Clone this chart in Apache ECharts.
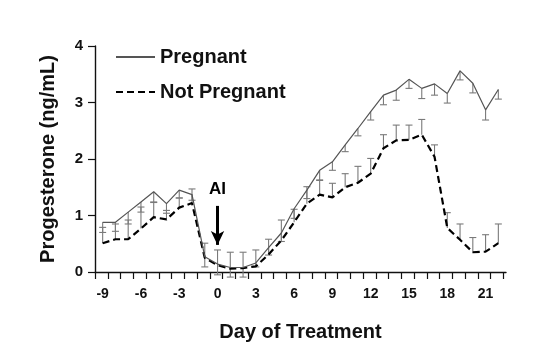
<!DOCTYPE html>
<html>
<head>
<meta charset="utf-8">
<script src="https://cdn.jsdelivr.net/npm/echarts@6/dist/echarts.min.js"></script>
<style>
  html, body { margin: 0; padding: 0; background: #fff; }
  #chart { width: 545px; height: 349px; }
</style>
</head>
<body>
<div id="chart"></div>
<script>
// Day relative to treatment
const days = [-9, -8, -7, -6, -5, -4, -3, -2, -1, 0, 1, 2, 3, 4, 5, 6, 7, 8, 9, 10,
              11, 12, 13, 14, 15, 16, 17, 18, 19, 20, 21, 22];
// Mean progesterone (ng/mL)
const pregnant = [0.88, 0.88, 1.06, 1.24, 1.42, 1.21, 1.45, 1.37, 0.27, 0.14, 0.08, 0.08,
                  0.16, 0.43, 0.69, 1.12, 1.45, 1.80, 1.95, 2.25, 2.54, 2.84, 3.13, 3.22,
                  3.41, 3.25, 3.33, 3.16, 3.56, 3.34, 2.87, 3.23];
const notPregnant = [0.51, 0.58, 0.58, 0.77, 0.97, 0.93, 1.14, 1.22, 0.25, 0.12, 0.06, 0.07,
                     0.10, 0.31, 0.56, 0.88, 1.21, 1.37, 1.32, 1.50, 1.58, 1.74, 2.19, 2.33,
                     2.34, 2.43, 2.04, 0.78, 0.57, 0.35, 0.36, 0.51];
// Standard errors (pregnant drawn below the mean, not pregnant above)
const pregnantSE = [0.18, 0.16, 0.21, 0.18, 0.19, 0.17, 0.14, 0.10, 0.18, 0.19, 0.17, 0.17,
                    0.07, 0.13, 0.15, 0.17, 0.15, 0.18, 0.15, 0.12, 0.13, 0.15, 0.17, 0.18,
                    0.16, 0.18, 0.20, 0.17, 0.16, 0.17, 0.18, 0.17];
const notPregnantSE = [0.28, 0.27, 0.34, 0.38, 0.27, 0.16, 0.17, 0.25, 0.26, 0.27, 0.29, 0.28,
                       0.29, 0.27, 0.36, 0.23, 0.30, 0.26, 0.25, 0.24, 0.29, 0.27, 0.24, 0.27,
                       0.26, 0.27, 0.21, 0.27, 0.28, 0.26, 0.30, 0.34];
const xTickLabels = [-9, -6, -3, 0, 3, 6, 9, 12, 15, 18, 21];
const yTickLabels = [0, 1, 2, 3, 4];
// Treatment marker (AI at day 0)
const aiDay = 0;

const FONT = '"Liberation Sans", Arial, Helvetica, sans-serif';
const X_MIN = -9.6, X_MAX = 22.6;

// minor ticks sit a fraction of a day to the right of the labelled days
const minorTicks = [];
for (let t = X_MIN; t <= X_MAX + 1e-6; t += 1) minorTicks.push(+t.toFixed(2));

function errorData(mean, se, dir) {
  return days.map((d, i) => [d, mean[i], +(mean[i] + dir * se[i]).toFixed(3)]);
}

function renderBar(params, api) {
  const x = api.value(0);
  const p0 = api.coord([x, api.value(1)]);
  const p1 = api.coord([x, api.value(2)]);
  const hw = 3.5;
  const style = { stroke: '#7a7a7a', lineWidth: 1.1 };
  return {
    type: 'group',
    children: [
      { type: 'line', shape: { x1: p0[0], y1: p0[1], x2: p1[0], y2: p1[1] }, style },
      { type: 'line', shape: { x1: p1[0] - hw, y1: p1[1], x2: p1[0] + hw, y2: p1[1] }, style }
    ]
  };
}

const chart = echarts.init(document.getElementById('chart'), null, { renderer: 'canvas' });

chart.setOption({
  animation: false,
  backgroundColor: '#fff',
  textStyle: { fontFamily: FONT },
  grid: { left: 95, right: 39, top: 46, bottom: 77, containLabel: false },
  legend: {
    orient: 'vertical',
    left: 110,
    top: 42,
    itemWidth: 39,
    itemHeight: 20,
    itemGap: 15,
    itemStyle: { opacity: 0 },
    textStyle: { fontFamily: FONT, fontSize: 20, fontWeight: 'bold', color: '#111' },
    data: ['Pregnant', 'Not Pregnant']
  },
  xAxis: {
    type: 'value',
    min: X_MIN,
    max: X_MAX,
    name: 'Day of Treatment',
    nameLocation: 'middle',
    nameGap: 50,
    nameTextStyle: { fontFamily: FONT, fontSize: 20, fontWeight: 'bold', color: '#111' },
    axisLine: { show: true, onZero: false, lineStyle: { color: '#111', width: 1.4 } },
    axisTick: { show: true, length: 7, customValues: minorTicks, lineStyle: { color: '#111', width: 1.2 } },
    axisLabel: { show: true, customValues: xTickLabels, margin: 15, fontFamily: FONT, fontSize: 14,
                 fontWeight: 'bold', color: '#111' },
    splitLine: { show: false }
  },
  yAxis: {
    type: 'value',
    min: 0,
    max: 4,
    interval: 1,
    name: 'Progesterone (ng/mL)',
    nameLocation: 'middle',
    nameGap: 37,
    nameTextStyle: { fontFamily: FONT, fontSize: 20, fontWeight: 'bold', color: '#111' },
    axisLine: { show: true, onZero: false, lineStyle: { color: '#111', width: 1.4 } },
    axisTick: { show: true, length: 7, lineStyle: { color: '#111', width: 1.2 } },
    axisLabel: { margin: 12, fontFamily: FONT, fontSize: 15, fontWeight: 'bold', color: '#111',
                 formatter: v => yTickLabels.includes(v) ? String(v) : '' },
    splitLine: { show: false }
  },
  series: [
    {
      name: 'Pregnant SE',
      type: 'custom',
      renderItem: renderBar,
      data: errorData(pregnant, pregnantSE, -1),
      encode: { x: 0, y: [1, 2] },
      clip: false,
      z: 1,
      silent: true
    },
    {
      name: 'Not Pregnant SE',
      type: 'custom',
      renderItem: renderBar,
      data: errorData(notPregnant, notPregnantSE, 1),
      encode: { x: 0, y: [1, 2] },
      clip: false,
      z: 1,
      silent: true
    },
    {
      name: 'Pregnant',
      type: 'line',
      data: days.map((d, i) => [d, pregnant[i]]),
      symbol: 'none',
      lineStyle: { color: '#555', width: 1.2 },
      itemStyle: { color: '#555' },
      z: 3,
      markLine: {
        silent: true,
        symbol: ['none', 'arrow'],
        symbolSize: [10, 14],
        lineStyle: { color: '#000', width: 3, type: 'solid' },
        label: { show: true, position: 'start', formatter: 'AI', distance: 8,
                 fontFamily: FONT, fontSize: 17, fontWeight: 'bold', color: '#000' },
        data: [[{ coord: [aiDay, 1.17] }, { coord: [aiDay, 0.48] }]]
      }
    },
    {
      name: 'Not Pregnant',
      type: 'line',
      data: days.map((d, i) => [d, notPregnant[i]]),
      symbol: 'none',
      lineStyle: { color: '#000', width: 2.2, type: [7, 4] },
      itemStyle: { color: '#000' },
      z: 2
    }
  ]
});
</script>
</body>
</html>
